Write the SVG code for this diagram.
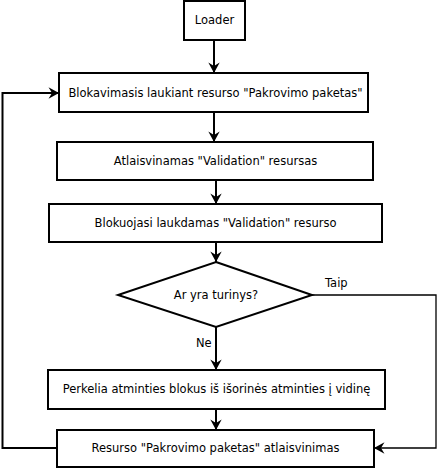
<svg xmlns="http://www.w3.org/2000/svg" width="437" height="468" viewBox="0 0 437 468">
<defs>
<marker id="ah" markerUnits="userSpaceOnUse" markerWidth="14" markerHeight="14" viewBox="-1 -8 14 16" refX="12" refY="0" orient="auto" overflow="visible">
<path d="M12,0 L0,-6.5 L4,0 L0,6.5 Z" fill="#000"/>
</marker>
<style>
.box{fill:#fff;stroke:#000;stroke-width:2}
.t{font-family:"DejaVu Sans","Liberation Sans",sans-serif;font-size:11.5px;fill:#000;text-anchor:middle}
.lbl{font-family:"DejaVu Sans","Liberation Sans",sans-serif;font-size:11.5px;fill:#000}
.c{fill:none;stroke:#000;stroke-width:2}
.thin{fill:none;stroke:#000;stroke-width:1.3}
</style>
</defs>
<rect width="437" height="468" fill="#fff"/>
<g id="connectors">
<path class="c" d="M214,40 L214,73" marker-end="url(#ah)"/>
<path class="c" d="M214,112 L214,142" marker-end="url(#ah)"/>
<path class="c" d="M216,180 L216,204" marker-end="url(#ah)"/>
<path class="c" d="M216,242 L216,262" marker-end="url(#ah)"/>
<path class="c" d="M216,327 L216,370" marker-end="url(#ah)"/>
<path class="c" d="M216,409 L216,430" marker-end="url(#ah)"/>
<path class="c" d="M57,448 L2.5,448 L2.5,93 L59,93" marker-end="url(#ah)"/>
<path class="thin" d="M312,295 L436,295 L436,448 L374,448" marker-end="url(#ah)"/>
<text class="lbl" x="325" y="287">Taip</text>
<text class="lbl" x="196" y="347">Ne</text>
</g>
<g id="loader">
<rect class="box" x="184" y="1" width="61" height="39"/>
<text class="t" x="214.5" y="24">Loader</text>
</g>
<g id="block-wait">
<rect class="box" x="59" y="73" width="309" height="39"/>
<text class="t" x="215.5" y="97">Blokavimasis laukiant resurso "Pakrovimo paketas"</text>
</g>
<g id="release-validation">
<rect class="box" x="57" y="142" width="316" height="38"/>
<text class="t" x="215.5" y="165">Atlaisvinamas "Validation" resursas</text>
</g>
<g id="block-validation">
<rect class="box" x="49" y="204" width="333" height="38"/>
<text class="t" x="215.5" y="227">Blokuojasi laukdamas "Validation" resurso</text>
</g>
<g id="decision">
<polygon class="box" points="216,262 312,295 216,327 118,295"/>
<text class="t" x="216" y="299">Ar yra turinys?</text>
</g>
<g id="move-blocks">
<rect class="box" x="48" y="370" width="337" height="39"/>
<text class="t" x="216.5" y="393">Perkelia atminties blokus iš išorinės atminties į vidinę</text>
</g>
<g id="release-package">
<rect class="box" x="57" y="430" width="317" height="37"/>
<text class="t" x="215.5" y="452">Resurso "Pakrovimo paketas" atlaisvinimas</text>
</g>
</svg>
